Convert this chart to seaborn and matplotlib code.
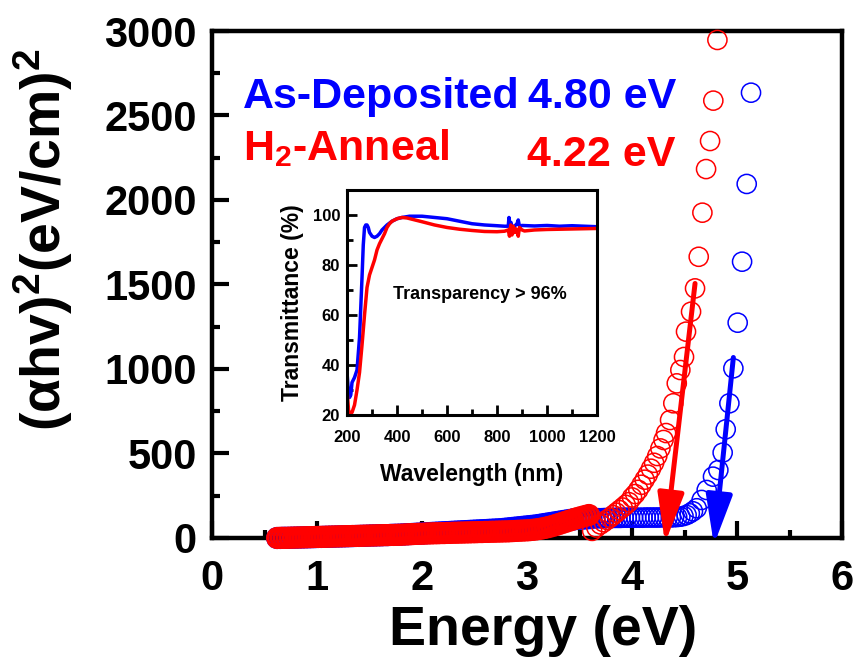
import matplotlib
matplotlib.use('Agg')
import matplotlib.pyplot as plt
from matplotlib.ticker import MultipleLocator
import seaborn as sns

# Tauc plot data (energy in eV, (ahv)^2)
e_low = [0.62, 0.65, 0.68, 0.71, 0.74, 0.77, 0.80, 0.83, 0.86, 0.89,
         0.92, 0.95, 0.98, 1.01, 1.04, 1.07, 1.10, 1.13, 1.16, 1.19,
         1.22, 1.25, 1.28, 1.31, 1.34, 1.37, 1.40, 1.43, 1.46, 1.49,
         1.52, 1.55, 1.58, 1.61, 1.64, 1.67, 1.70, 1.73, 1.76, 1.79,
         1.82, 1.85, 1.88, 1.91, 1.94, 1.97, 2.00, 2.03, 2.06, 2.09,
         2.12, 2.15, 2.18, 2.21, 2.24, 2.27, 2.30, 2.33, 2.36, 2.39,
         2.42, 2.45, 2.48, 2.51, 2.54, 2.57, 2.60, 2.63, 2.66, 2.69,
         2.72, 2.75, 2.78, 2.81, 2.84, 2.87, 2.90, 2.93, 2.96, 2.99,
         3.02, 3.05, 3.08, 3.11, 3.14, 3.17, 3.20, 3.23, 3.26, 3.29,
         3.32, 3.35, 3.38, 3.41, 3.44, 3.47, 3.50, 3.53, 3.56, 3.59]
red_low = [0, 1, 1, 1, 2, 2, 3, 3, 4, 4,
           5, 5, 6, 6, 7, 7, 8, 8, 9, 9,
           10, 10, 11, 11, 12, 12, 13, 13, 14, 14,
           15, 15, 16, 16, 17, 17, 18, 18, 19, 19,
           20, 21, 22, 23, 24, 25, 25, 26, 27, 27,
           28, 28, 29, 29, 30, 30, 31, 31, 32, 32,
           33, 33, 34, 34, 35, 35, 36, 36, 37, 37,
           38, 38, 39, 39, 40, 41, 42, 43, 44, 45,
           46, 48, 50, 53, 56, 60, 64, 69, 74, 80,
           86, 92, 98, 104, 110, 116, 121, 126, 131, 136]
blue_low = [0, 0, 1, 1, 1, 2, 2, 3, 3, 4,
            4, 5, 5, 6, 6, 7, 7, 8, 8, 9,
            9, 10, 10, 11, 11, 12, 12, 13, 13, 14,
            15, 15, 16, 16, 17, 17, 18, 19, 19, 20,
            21, 22, 23, 24, 25, 26, 27, 28, 29, 30,
            31, 32, 33, 34, 35, 36, 37, 38, 39, 40,
            41, 42, 43, 44, 45, 46, 47, 48, 49, 50,
            51, 52, 54, 56, 58, 60, 62, 64, 66, 68,
            70, 72, 74, 77, 80, 83, 86, 89, 92, 95,
            98, 101, 104, 107, 110, 112, 114, 115, 116, 117]

# As-deposited: plateau then absorption edge
e_blue_hi = [3.62, 3.65, 3.68, 3.71, 3.74, 3.77, 3.80, 3.83, 3.86, 3.89,
             3.92, 3.95, 3.98, 4.01, 4.04, 4.07, 4.10, 4.13, 4.16, 4.19,
             4.22, 4.25, 4.28, 4.31, 4.34, 4.37, 4.40, 4.43, 4.46, 4.49,
             4.52, 4.55, 4.58, 4.616, 4.663, 4.711, 4.771, 4.822, 4.863,
             4.892, 4.927, 4.965, 5.006, 5.048, 5.092, 5.133]
blue_hi = [116, 116, 117, 117, 118, 118, 118, 119, 119, 119,
           120, 120, 120, 120, 120, 120, 120, 121, 121, 121,
           121, 121, 122, 122, 122, 122, 123, 124, 126, 130,
           136, 146, 158, 176, 225, 284, 363, 402, 505,
           643, 797, 1004, 1274, 1635, 2095, 2635]

# H2-annealed: absorption edge
e_red_hi = [3.62, 3.66, 3.70, 3.73, 3.76, 3.79, 3.82, 3.85, 3.88, 3.91,
            3.94, 3.97, 4.00, 4.03, 4.06, 4.09, 4.12, 4.15, 4.18, 4.21,
            4.24, 4.27, 4.30, 4.324, 4.362, 4.393, 4.426, 4.46, 4.495,
            4.514, 4.562, 4.60, 4.635, 4.670, 4.705, 4.743, 4.774, 4.813]
red_hi = [42, 62, 80, 93, 107, 120, 135, 150, 165, 180,
          196, 212, 240, 260, 285, 315, 345, 375, 410, 445,
          485, 530, 580, 621, 698, 797, 915, 994, 1071,
          1221, 1339, 1477, 1664, 1925, 2183, 2349, 2588, 2947]

# inset transmittance spectra
wl_blue = [200, 205, 210, 215, 220, 230, 240, 250, 260, 265,
           270, 275, 280, 285, 290, 300, 310, 320, 330, 340,
           350, 360, 380, 400, 420, 450, 500, 550, 600, 650,
           700, 750, 800, 830, 845, 848, 852, 856, 860, 870,
           880, 885, 890, 900, 950, 1000, 1050, 1100, 1150, 1200]
t_blue = [37, 30, 27, 28, 33, 35, 38, 51, 75, 88,
          95, 96, 96, 95, 93, 91.5, 91, 91.5, 92.5, 94,
          95, 96, 97.5, 98.5, 99, 99.5, 99.5, 99, 98.5, 97.5,
          96.5, 96, 95.7, 95.5, 95.5, 99, 96, 97, 95.3, 95.5,
          96.5, 98, 95.5, 95.8, 95.6, 95.8, 95.5, 95.7, 95.5, 95.3]
wl_red = [200, 203, 206, 210, 215, 220, 230, 240, 250, 260,
          270, 280, 290, 300, 310, 320, 330, 340, 350, 360,
          370, 380, 400, 420, 440, 460, 500, 550, 600, 650,
          700, 750, 800, 830, 845, 850, 855, 860, 865, 870,
          875, 880, 885, 890, 900, 910, 950, 1000, 1050, 1100,
          1150, 1200]
t_red = [30, 26, 22, 20, 21, 21, 24, 30, 37, 48,
         60, 71, 76, 79, 82, 86, 88.5, 90.5, 92.5, 95,
         96.5, 97.5, 98.5, 99, 98.8, 98.3, 97.3, 96, 95, 94.3,
         93.8, 93.4, 93.3, 93.5, 94, 91.5, 96, 92, 95.5, 93,
         94.5, 93.5, 91.5, 95, 94, 93.6, 94, 94.2, 94.3, 94.4,
         94.5, 94.6]

# fitted band-gap arrows (start, tip) in data units
blue_arrow = [(4.965, 1068), (4.78, -40)]
red_arrow = [(4.60, 1506), (4.314, -30)]

blue = '#0000ff'
red = '#ff0000'

sns.set_style('ticks')
plt.rcParams['font.family'] = ['Liberation Sans', 'DejaVu Sans']
plt.rcParams['font.weight'] = 'bold'
plt.rcParams['axes.labelweight'] = 'bold'
plt.rcParams['mathtext.fontset'] = 'custom'
plt.rcParams['mathtext.rm'] = 'Liberation Sans:bold'
plt.rcParams['mathtext.it'] = 'Liberation Sans:bold'
plt.rcParams['mathtext.bf'] = 'Liberation Sans:bold'
plt.rcParams['mathtext.default'] = 'rm'
for k in ['text.color', 'axes.labelcolor', 'xtick.color', 'ytick.color', 'axes.edgecolor']:
    plt.rcParams[k] = 'black'

fig = plt.figure(figsize=(8.56, 6.61), dpi=100)
ax = fig.add_axes([0.2477, 0.1861, 0.736, 0.767])

# main Tauc plot
mk = dict(marker='o', s=190, facecolor='none', ax=ax, legend=False, clip_on=False, zorder=3)
sns.scatterplot(x=e_low, y=blue_low, edgecolor=blue, linewidth=2.2, **mk)
sns.scatterplot(x=e_blue_hi, y=blue_hi, edgecolor=blue, linewidth=1.1, **mk)
sns.scatterplot(x=e_low, y=red_low, edgecolor=red, linewidth=2.2, **mk)
sns.scatterplot(x=e_red_hi, y=red_hi, edgecolor=red, linewidth=1.1, **mk)

for arr, c in [(red_arrow, red), (blue_arrow, blue)]:
    ax.annotate('', xy=arr[1], xytext=arr[0], annotation_clip=False,
                arrowprops=dict(arrowstyle='-|>,head_length=1.5,head_width=0.4',
                                lw=3.6, color=c, mutation_scale=20,
                                shrinkA=0, shrinkB=0), zorder=4)

ax.set_xlim(0, 6)
ax.set_ylim(0, 3000)
ax.xaxis.set_major_locator(MultipleLocator(1))
ax.xaxis.set_minor_locator(MultipleLocator(0.5))
ax.yaxis.set_major_locator(MultipleLocator(500))
ax.yaxis.set_minor_locator(MultipleLocator(250))
ax.tick_params(which='major', direction='in', length=12, width=3, labelsize=30)
ax.tick_params(which='minor', direction='in', length=6, width=3)
ax.tick_params(axis='x', pad=15)
ax.tick_params(axis='y', pad=11)
for sp in ax.spines.values():
    sp.set_linewidth(3.2)
    sp.set_visible(True)
ax.set_xlabel('Energy (eV)', fontsize=40)
ax.set_ylabel(r'$(\alpha hv)^2(eV/cm)^2$', fontsize=40)
ax.xaxis.set_label_coords(0.525, -0.132)
ax.yaxis.set_label_coords(-0.217, 0.588)

ax.text(0.295, 2544, 'As-Deposited', color=blue, fontsize=31, fontweight='bold', va='baseline')
ax.text(3.01, 2544, '4.80 eV', color=blue, fontsize=31, fontweight='bold', va='baseline')
ax.text(0.295, 2237, r'H$_2$-Anneal', color=red, fontsize=31, fontweight='bold', va='baseline')
ax.text(3.00, 2201, '4.22 eV', color=red, fontsize=31, fontweight='bold', va='baseline')

# inset transmittance
axin = fig.add_axes([0.4054, 0.3722, 0.292, 0.3404])
sns.lineplot(x=wl_blue, y=t_blue, color=blue, lw=2.5, ax=axin)
sns.lineplot(x=wl_red, y=t_red, color=red, lw=2.5, ax=axin)
axin.set_xlim(200, 1200)
axin.set_ylim(20, 110)
axin.xaxis.set_major_locator(MultipleLocator(200))
axin.xaxis.set_minor_locator(MultipleLocator(100))
axin.yaxis.set_major_locator(MultipleLocator(20))
axin.yaxis.set_minor_locator(MultipleLocator(10))
axin.set_yticks([20, 40, 60, 80, 100])
axin.tick_params(which='major', direction='in', length=7, width=2, labelsize=12)
axin.tick_params(which='minor', direction='in', length=4, width=2)
axin.tick_params(axis='x', pad=11)
axin.tick_params(axis='y', pad=5)
for sp in axin.spines.values():
    sp.set_linewidth(2.2)
    sp.set_visible(True)
axin.set_xlabel('Wavelength (nm)', fontsize=16.5, labelpad=13)
axin.set_ylabel('Transmittance (%)', fontsize=16.5, labelpad=6)
axin.text(730, 68, 'Transparency > 96%', fontsize=13, fontweight='bold', ha='center', va='center')

fig.savefig('out.png', dpi=100)
